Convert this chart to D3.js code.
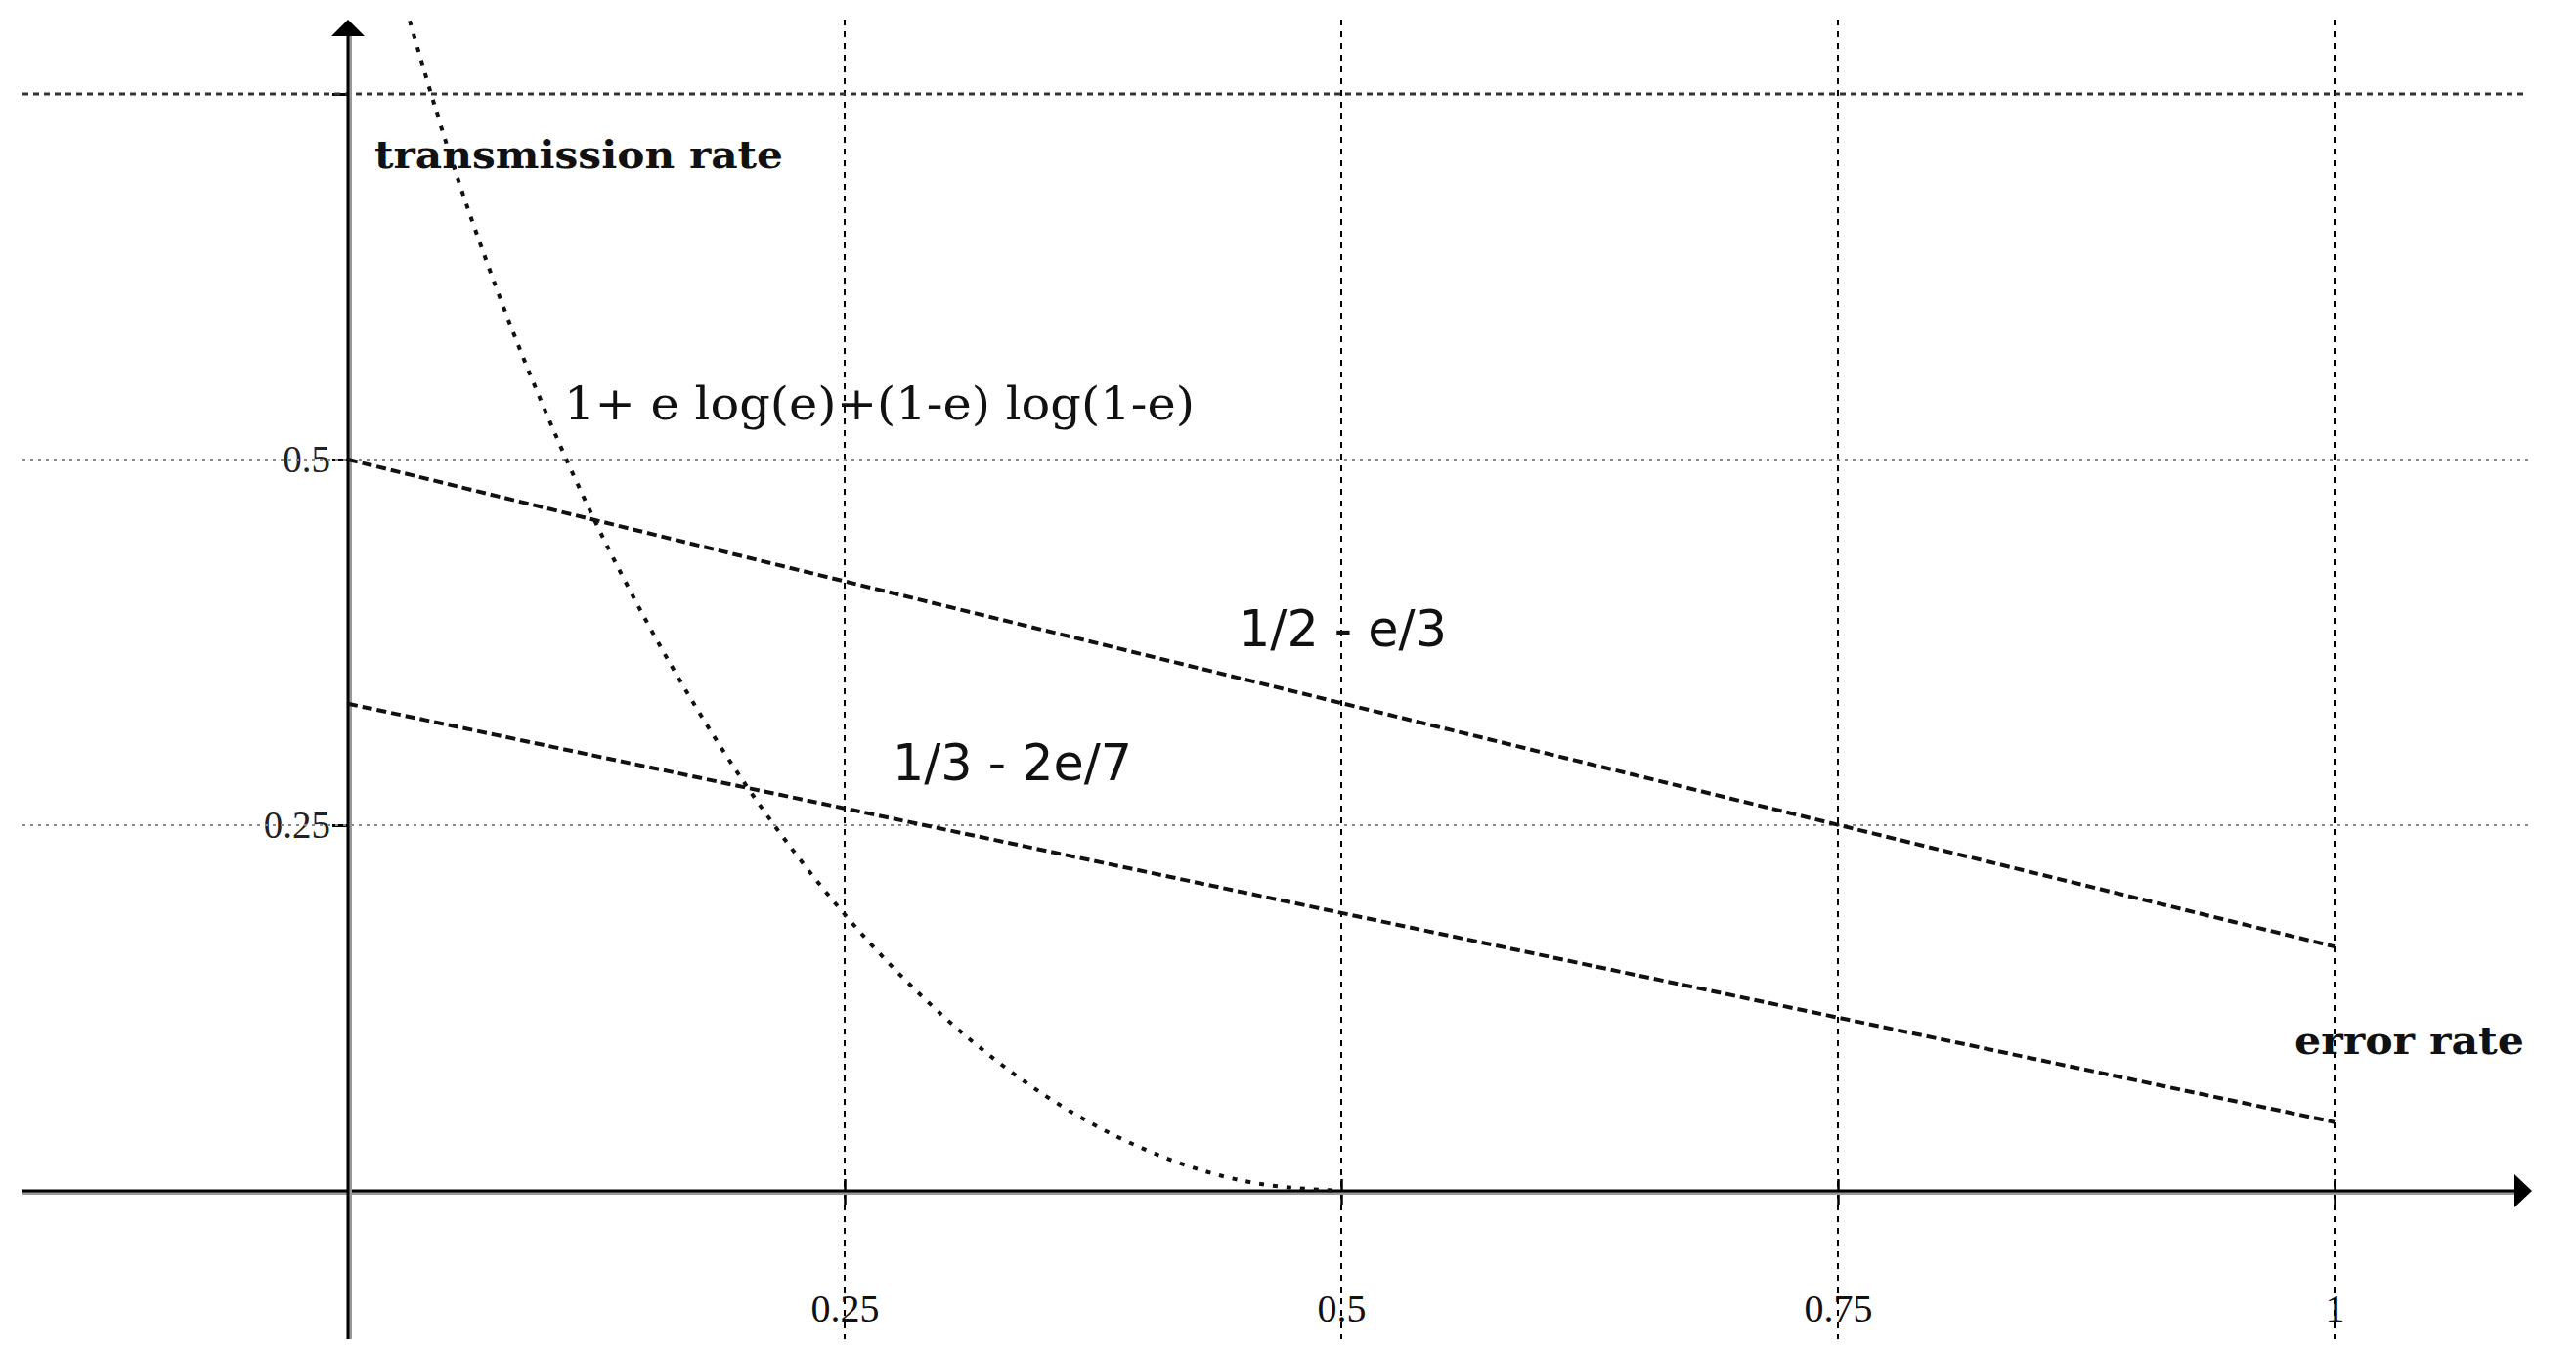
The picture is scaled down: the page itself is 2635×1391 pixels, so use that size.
<!DOCTYPE html>
<html>
<head>
<meta charset="utf-8">
<script src="https://cdn.jsdelivr.net/npm/d3@7"></script>
<style>
  html, body { margin: 0; padding: 0; background: #fff; }
</style>
</head>
<body>
<div id="plot"></div>
<script>
// values
const xTicks = [0.25, 0.5, 0.75, 1];
const xTickLabels = ["0.25", "0.5", "0.75", "1"];
const yTicks = [0.25, 0.5];
const yTickLabels = ["0.25", "0.5"];
const topLine = 0.75;

// 1 + e log(e) + (1-e) log(1-e), read point by point
const capE = [0.031, 0.05, 0.075, 0.1, 0.125, 0.15, 0.175, 0.2, 0.225, 0.25, 0.3, 0.35, 0.4, 0.45, 0.5];
const capRate = [0.80, 0.714, 0.616, 0.531, 0.456, 0.39, 0.331, 0.278, 0.231, 0.189, 0.119, 0.066, 0.029, 0.007, 0];

// 1/2 - e/3 and 1/3 - 2e/7
const lineE = [0, 1];
const halfRate = [0.5, 0.167];
const thirdRate = [0.333, 0.047];

const width = 2635;
const height = 1391;

const svg = d3.select("div#plot")
  .append("svg")
  .attr("width", width)
  .attr("height", height);

const x = d3.scaleLinear().domain([0, 1]).range([356, 2388]);
const y = d3.scaleLinear().domain([0, 0.75]).range([1218, 96]);

// tick labels (drawn first so the grid runs through them)
const xAxis = svg.append("g")
  .attr("transform", `translate(0, ${y(0)})`)
  .call(d3.axisBottom(x)
    .tickValues(xTicks)
    .tickFormat((d, i) => xTickLabels[i])
    .tickSizeInner(14)
    .tickSizeOuter(0)
    .tickPadding(92));
xAxis.select(".domain").remove();
xAxis.selectAll("line")
  .attr("y1", -12)
  .attr("stroke", "#000")
  .attr("stroke-width", 2.5);
xAxis.selectAll("text")
  .attr("fill", "#111")
  .style("font-family", "'Liberation Serif', serif")
  .style("font-size", "40px");

const yAxis = svg.append("g")
  .attr("transform", `translate(${x(0)}, 0)`)
  .call(d3.axisLeft(y)
    .tickValues(yTicks.concat([topLine]))
    .tickFormat(d => {
      const i = yTicks.indexOf(d);
      return i < 0 ? "" : yTickLabels[i];
    })
    .tickSizeInner(16)
    .tickSizeOuter(0)
    .tickPadding(2));
yAxis.select(".domain").remove();
yAxis.selectAll("line")
  .attr("stroke", "#000")
  .attr("stroke-width", 3);
yAxis.selectAll("text")
  .attr("fill", "#222")
  .style("font-family", "'Liberation Serif', serif")
  .style("font-size", "39px");

// grid
svg.selectAll(".vgrid")
  .data(xTicks)
  .enter().append("line")
  .attr("class", "vgrid")
  .attr("x1", d => x(d))
  .attr("x2", d => x(d))
  .attr("y1", 20)
  .attr("y2", 1370)
  .attr("stroke", "#000")
  .attr("stroke-width", 2)
  .attr("stroke-dasharray", "6,6");

svg.selectAll(".hgrid")
  .data(yTicks)
  .enter().append("line")
  .attr("class", "hgrid")
  .attr("x1", 23)
  .attr("x2", 2586)
  .attr("y1", d => y(d))
  .attr("y2", d => y(d))
  .attr("stroke", "#888")
  .attr("stroke-width", 2)
  .attr("stroke-dasharray", "3,5");

svg.append("line")
  .attr("x1", 23)
  .attr("x2", 2586)
  .attr("y1", y(topLine))
  .attr("y2", y(topLine))
  .attr("stroke", "#333")
  .attr("stroke-width", 3)
  .attr("stroke-dasharray", "6,5");

// axes with arrows
svg.append("line")
  .attr("x1", 23).attr("x2", 2575)
  .attr("y1", y(0) + 2).attr("y2", y(0) + 2)
  .attr("stroke", "#999").attr("stroke-width", 4);
svg.append("line")
  .attr("x1", 23).attr("x2", 2575)
  .attr("y1", y(0)).attr("y2", y(0))
  .attr("stroke", "#000").attr("stroke-width", 3);
svg.append("path")
  .attr("d", `M2590,${y(0)} L2572,${y(0) - 17} L2572,${y(0) + 17} Z`)
  .attr("fill", "#000");

svg.append("line")
  .attr("x1", x(0) + 2).attr("x2", x(0) + 2)
  .attr("y1", 34).attr("y2", 1370)
  .attr("stroke", "#999").attr("stroke-width", 4);
svg.append("line")
  .attr("x1", x(0)).attr("x2", x(0))
  .attr("y1", 34).attr("y2", 1370)
  .attr("stroke", "#000").attr("stroke-width", 3);
svg.append("path")
  .attr("d", `M${x(0)},20 L${x(0) - 17},37 L${x(0) + 17},37 Z`)
  .attr("fill", "#000");

// series
const straight = d3.line()
  .x(d => x(d[0]))
  .y(d => y(d[1]));

[halfRate, thirdRate].forEach(vals => {
  svg.append("path")
    .attr("d", straight(d3.zip(lineE, vals)))
    .attr("fill", "none")
    .attr("stroke", "#111")
    .attr("stroke-width", 4)
    .attr("stroke-dasharray", "10,5");
});

const curved = d3.line()
  .x(d => x(d[0]))
  .y(d => y(d[1]))
  .curve(d3.curveMonotoneX);

svg.append("path")
  .attr("d", curved(d3.zip(capE, capRate)))
  .attr("fill", "none")
  .attr("stroke", "#111")
  .attr("stroke-width", 4)
  .attr("stroke-dasharray", "5,9");

// labels
function label(txt, px, py, font, size, weight, len) {
  svg.append("text")
    .attr("x", px)
    .attr("y", py)
    .attr("textLength", len)
    .attr("lengthAdjust", "spacingAndGlyphs")
    .attr("fill", "#111")
    .style("font-family", font)
    .style("font-size", size + "px")
    .style("font-weight", weight)
    .text(txt);
}

label("transmission rate", 383, 172, "'DejaVu Serif', serif", 40, "bold", 418);
label("error rate", 2347, 1078, "'DejaVu Serif', serif", 40, "bold", 235);
label("1+ e log(e)+(1-e) log(1-e)", 577, 429, "'DejaVu Serif', serif", 47, "normal", 645);
label("1/2 - e/3", 1267, 661, "'DejaVu Sans', sans-serif", 52, "normal", 213);
label("1/3 - 2e/7", 913, 798, "'DejaVu Sans', sans-serif", 52, "normal", 245);
</script>
</body>
</html>
